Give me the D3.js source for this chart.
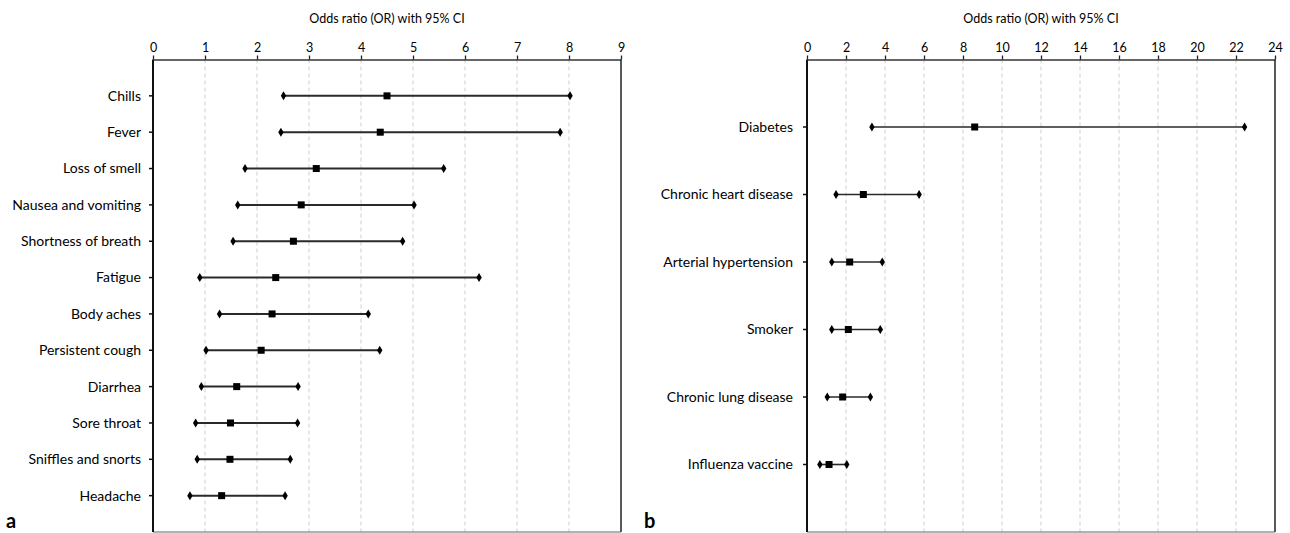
<!DOCTYPE html>
<html>
<head>
<meta charset="utf-8">
<script src="https://cdn.jsdelivr.net/npm/d3@7"></script>
<style>
  body { margin: 0; background: #fff; }
  svg text { font-family: Lato, "Open Sans", sans-serif; fill: #000; }
</style>
</head>
<body>
<div id="chart"></div>
<script>
// panel a: symptoms
var symptoms = ["Chills", "Fever", "Loss of smell", "Nausea and vomiting", "Shortness of breath",
   "Fatigue", "Body aches", "Persistent cough", "Diarrhea", "Sore throat", "Sniffles and snorts", "Headache"];
var symptomOR = [4.50, 4.37, 3.14, 2.85, 2.70, 2.36, 2.29, 2.08, 1.61, 1.49, 1.48, 1.32];
var symptomLow = [2.51, 2.46, 1.77, 1.63, 1.54, 0.90, 1.28, 1.02, 0.93, 0.82, 0.85, 0.71];
var symptomHigh = [8.02, 7.83, 5.59, 5.02, 4.80, 6.27, 4.14, 4.36, 2.79, 2.78, 2.64, 2.54];
var ticksA = [0, 1, 2, 3, 4, 5, 6, 7, 8, 9];

// panel b: comorbidities
var conditions = ["Diabetes", "Chronic heart disease", "Arterial hypertension", "Smoker",
   "Chronic lung disease", "Influenza vaccine"];
var conditionOR = [8.60, 2.89, 2.19, 2.12, 1.83, 1.13];
var conditionLow = [3.33, 1.49, 1.27, 1.27, 1.04, 0.66];
var conditionHigh = [22.44, 5.75, 3.86, 3.76, 3.25, 2.04];
var ticksB = [0, 2, 4, 6, 8, 10, 12, 14, 16, 18, 20, 22, 24];

var width = 1290, height = 533;
var svg = d3.select("#chart").append("svg")
   .attr("width", width)
   .attr("height", height);

function drawPanel(opts) {
   var top = 59.5, plotH = 472.5, plotW = 468;
   var g = svg.append("g")
      .attr("transform", "translate(" + opts.left + "," + top + ")");

   var x = d3.scaleLinear()
      .domain([ticksMin(opts.ticks), ticksMax(opts.ticks)])
      .range([0, plotW]);

   // rows sit at (i+1) * step, one empty slot at the bottom
   var step = plotH / (opts.cats.length + 1);
   var y = function (i) { return (i + 1) * step; };

   // dashed gridlines
   g.selectAll(".grid")
      .data(opts.ticks.slice(1, -1))
      .enter().append("line")
      .attr("x1", function (d) { return x(d); })
      .attr("x2", function (d) { return x(d); })
      .attr("y1", 0)
      .attr("y2", plotH)
      .attr("stroke", "#cfcfcf")
      .attr("stroke-width", 1)
      .attr("stroke-dasharray", "4,3");

   // top axis
   var xAxis = d3.axisTop(x)
      .tickValues(opts.ticks)
      .tickSize(4)
      .tickSizeOuter(0)
      .tickPadding(4);
   var gX = g.append("g").call(xAxis);
   gX.select(".domain").attr("stroke", "#333").attr("stroke-width", 1.6);
   gX.selectAll(".tick line").attr("stroke", "#222").attr("stroke-width", 1.3);
   gX.selectAll(".tick text")
      .attr("font-size", 12.5)
      .attr("font-family", "Lato, sans-serif")
      .attr("fill", "#000");

   // axis title
   g.append("text")
      .attr("x", plotW / 2)
      .attr("y", -37)
      .attr("text-anchor", "middle")
      .attr("font-size", 12.5)
      .text("Odds ratio (OR) with 95% CI");

   // right and bottom frame
   g.append("line")
      .attr("x1", plotW).attr("x2", plotW)
      .attr("y1", 0).attr("y2", plotH)
      .attr("stroke", "#222").attr("stroke-width", 1.5);
   g.append("line")
      .attr("x1", 0).attr("x2", plotW)
      .attr("y1", plotH).attr("y2", plotH)
      .attr("stroke", "#666").attr("stroke-width", 1.2);

   // left axis with category labels
   g.append("line")
      .attr("x1", 0).attr("x2", 0)
      .attr("y1", 0).attr("y2", plotH)
      .attr("stroke", "#111").attr("stroke-width", 2);

   var rows = g.selectAll(".row")
      .data(opts.cats)
      .enter().append("g")
      .attr("class", "row")
      .attr("transform", function (d, i) { return "translate(0," + y(i) + ")"; });

   rows.append("line")
      .attr("x1", -4).attr("x2", 0)
      .attr("stroke", "#111").attr("stroke-width", 1.5);

   rows.append("text")
      .attr("x", -opts.labelGap)
      .attr("dy", "0.35em")
      .attr("text-anchor", "end")
      .attr("font-size", 14)
      .text(function (d) { return d; });

   // CI lines
   rows.append("line")
      .attr("x1", function (d, i) { return x(opts.low[i]); })
      .attr("x2", function (d, i) { return x(opts.high[i]); })
      .attr("stroke", "#2a2a2a")
      .attr("stroke-width", opts.lineW);

   // diamond ends
   var diamond = "M0,-4.5L2.7,0L0,4.5L-2.7,0Z";
   rows.append("path")
      .attr("d", diamond)
      .attr("transform", function (d, i) { return "translate(" + x(opts.low[i]) + ",0)"; })
      .attr("fill", "#000");
   rows.append("path")
      .attr("d", diamond)
      .attr("transform", function (d, i) { return "translate(" + x(opts.high[i]) + ",0)"; })
      .attr("fill", "#000");

   // OR squares
   rows.append("rect")
      .attr("x", function (d, i) { return x(opts.or[i]) - 3.5; })
      .attr("y", -3.5)
      .attr("width", 7)
      .attr("height", 7)
      .attr("fill", "#000");

   // panel letter
   svg.append("text")
      .attr("x", opts.letterX)
      .attr("y", 528)
      .attr("font-size", 20)
      .attr("font-weight", "bold")
      .attr("font-family", "Lato, 'Open Sans', sans-serif")
      .text(opts.letter);
}

function ticksMin(t) { return t[0]; }
function ticksMax(t) { return t[t.length - 1]; }

drawPanel({
   left: 153, cats: symptoms, or: symptomOR, low: symptomLow, high: symptomHigh,
   ticks: ticksA, labelGap: 12, lineW: 2, letter: "a", letterX: 6
});

drawPanel({
   left: 807, cats: conditions, or: conditionOR, low: conditionLow, high: conditionHigh,
   ticks: ticksB, labelGap: 14, lineW: 1.6, letter: "b", letterX: 644
});
</script>
</body>
</html>
